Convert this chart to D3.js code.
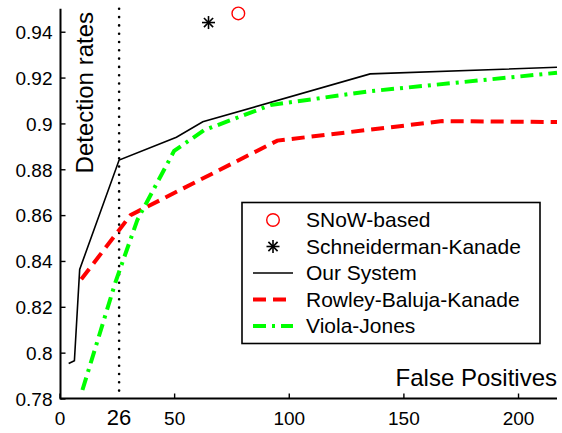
<!DOCTYPE html>
<html>
<head>
<meta charset="utf-8">
<script src="https://cdn.jsdelivr.net/npm/d3@7"></script>
<style>
  body { margin: 0; background: #fff; }
  text { font-family: "Liberation Sans", Arial, sans-serif; fill: #000; }
</style>
</head>
<body>
<div id="chart"></div>
<script>
// values
const ourSystem = [[4.0, 0.7953], [6.5, 0.7965], [8.8, 0.8363], [26, 0.884], [51, 0.894],
                   [62.5, 0.9007], [135.5, 0.9216], [217, 0.9245]]
const rowley = [[9.5, 0.832], [31, 0.860], [95, 0.8925], [167, 0.901], [217, 0.9006]]
const violaJones = [[10, 0.7837], [24.5, 0.831], [34, 0.858], [50, 0.888], [63, 0.897],
                    [92, 0.908], [135, 0.914], [217, 0.9221]]
const snow = [[78, 0.948]]
const schneiderman = [[65, 0.944]]
const markLine = 26

const xTicks = [0, 50, 100, 150, 200]
const yTicks = [0.78, 0.8, 0.82, 0.84, 0.86, 0.88, 0.9, 0.92, 0.94]
const legendNames = ["SNoW-based", "Schneiderman-Kanade", "Our System", "Rowley-Baluja-Kanade", "Viola-Jones"]

const width = 562, height = 433

const svg = d3.select("#chart").append("svg")
    .attr("width", width)
    .attr("height", height)

const x = d3.scaleLinear().domain([0, 217]).range([59.5, 557])
const y = d3.scaleLinear().domain([0.78, 0.95]).range([398.5, 8.8])

const line = d3.line()
      .x(d => x(d[0]))
      .y(d => y(d[1]))

// dotted marker at 26 false positives
svg.append("line")
    .attr("x1", x(markLine)).attr("x2", x(markLine))
    .attr("y1", y(0.95)).attr("y2", y(0.78))
    .attr("stroke", "#000")
    .attr("stroke-width", 2.6)
    .attr("stroke-linecap", "round")
    .attr("stroke-dasharray", "0,8.3")

// series
svg.append("path")
    .attr("d", line(ourSystem))
    .attr("fill", "none")
    .attr("stroke", "#000")
    .attr("stroke-width", 1.6)

svg.append("path")
    .attr("d", line(rowley))
    .attr("fill", "none")
    .attr("stroke", "#ff0000")
    .attr("stroke-width", 4)
    .attr("stroke-dasharray", "13,7")

svg.append("path")
    .attr("d", line(violaJones))
    .attr("fill", "none")
    .attr("stroke", "#00ff00")
    .attr("stroke-width", 4)
    .attr("stroke-dasharray", "13,6,3,6")

function star(g, cx, cy, r) {
    for (let a = 0; a < 4; a++) {
        let t = a * Math.PI / 4
        g.append("line")
            .attr("x1", cx - r * Math.sin(t)).attr("y1", cy - r * Math.cos(t))
            .attr("x2", cx + r * Math.sin(t)).attr("y2", cy + r * Math.cos(t))
            .attr("stroke", "#000")
            .attr("stroke-width", 1.6)
    }
}

svg.append("g").selectAll("circle")
    .data(snow)
    .join("circle")
    .attr("cx", d => x(d[0]))
    .attr("cy", d => y(d[1]))
    .attr("r", 6.3)
    .attr("fill", "none")
    .attr("stroke", "#ff0000")
    .attr("stroke-width", 1.4)

let starG = svg.append("g")
schneiderman.forEach(d => star(starG, x(d[0]), y(d[1]), 6.5))

// axes, matlab style ticks pointing inward
const xAxis = svg.append("g")
    .attr("transform", `translate(0,${y(0.78)})`)
    .call(d3.axisTop(x).tickValues(xTicks).tickSize(5).tickSizeOuter(0).tickFormat(d3.format("d")))
xAxis.select(".domain").attr("stroke-width", 2).attr("d", `M${x(0) + 1},0H${x(217)}`)
xAxis.selectAll(".tick line").attr("stroke-width", 1.4)
xAxis.selectAll(".tick text")
    .attr("y", 26)
    .attr("dy", 0)
    .attr("font-size", 19)
    .attr("font-family", "Liberation Sans, Arial, sans-serif")

const yAxis = svg.append("g")
    .attr("transform", `translate(${x(0) + 1},0)`)
    .call(d3.axisRight(y).tickValues(yTicks).tickSize(5).tickSizeOuter(0).tickFormat(d => d3.format("")(+d.toFixed(2))))
yAxis.select(".domain").attr("stroke-width", 2).attr("d", `M0,${y(0.78) + 1}V${y(0.95)}`)
yAxis.selectAll(".tick line").attr("stroke-width", 1.4)
yAxis.selectAll(".tick text")
    .attr("x", -8)
    .attr("dy", "0.36em")
    .attr("text-anchor", "end")
    .attr("font-size", 19)
    .attr("font-family", "Liberation Sans, Arial, sans-serif")

// the extra 26 label
svg.append("text")
    .attr("x", x(markLine))
    .attr("y", 424.5)
    .attr("text-anchor", "middle")
    .attr("font-size", 22)
    .text(markLine)

// axis titles
svg.append("text")
    .attr("x", 557)
    .attr("y", 386)
    .attr("text-anchor", "end")
    .attr("font-size", 24)
    .text("False Positives")

svg.append("text")
    .attr("transform", "translate(93,12) rotate(-90)")
    .attr("text-anchor", "end")
    .attr("font-size", 24)
    .text("Detection rates")

// legend
const legend = svg.append("g")
legend.append("rect")
    .attr("x", 242).attr("y", 202.5)
    .attr("width", 298).attr("height", 141)
    .attr("fill", "#fff")
    .attr("stroke", "#000")
    .attr("stroke-width", 1.6)

const rowY = i => 227 + i * 26.5

legendNames.forEach((name, i) => {
    legend.append("text")
        .attr("x", 306)
        .attr("y", rowY(i))
        .attr("font-size", 21)
        .text(name)
})

legend.append("circle")
    .attr("cx", 273).attr("cy", rowY(0) - 7)
    .attr("r", 6.3)
    .attr("fill", "none")
    .attr("stroke", "#ff0000")
    .attr("stroke-width", 1.4)

star(legend, 273, rowY(1) - 7, 6.5)

const legendLines = [
    { stroke: "#000", width: 1.6, dash: null },
    { stroke: "#ff0000", width: 4, dash: "13,7" },
    { stroke: "#00ff00", width: 4, dash: "13,6,3,6" }
]
legendLines.forEach((s, i) => {
    legend.append("line")
        .attr("x1", 253).attr("x2", 293)
        .attr("y1", rowY(i + 2) - 7).attr("y2", rowY(i + 2) - 7)
        .attr("stroke", s.stroke)
        .attr("stroke-width", s.width)
        .attr("stroke-dasharray", s.dash)
})
</script>
</body>
</html>
